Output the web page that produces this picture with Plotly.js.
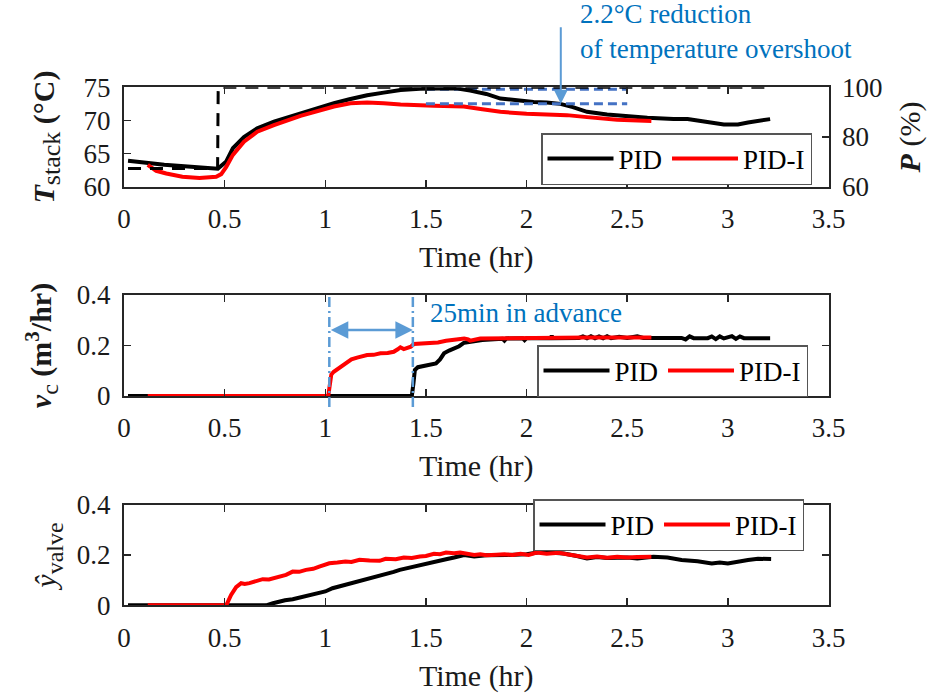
<!DOCTYPE html>
<html>
<head>
<meta charset="utf-8">
<script src="https://cdn.plot.ly/plotly-3.0.1.min.js"></script>
<style>
  html, body { margin: 0; padding: 0; background: #ffffff; }
  #chart { width: 930px; height: 696px; }
</style>
</head>
<body>
<div id="chart"></div>
<script>
// ---- Stack temperature (°C) ----
const tTempPID = [0.02, 0.1, 0.2, 0.3, 0.4, 0.466, 0.508, 0.541, 0.596, 0.662, 0.745, 0.877, 0.96, 1.043, 1.12, 1.208, 1.29, 1.374, 1.47, 1.55, 1.65, 1.72, 1.8, 1.87, 1.95, 2.035, 2.1, 2.168, 2.23, 2.3, 2.4, 2.5, 2.6, 2.73, 2.8, 2.89, 2.98, 3.05, 3.1, 3.21];
const tempPID  = [63.9, 63.6, 63.3, 63.1, 62.9, 62.7, 63.8, 65.8, 67.5, 68.8, 69.8, 71.1, 71.9, 72.6, 73.2, 73.8, 74.2, 74.6, 74.8, 74.85, 74.85, 74.5, 74.0, 73.3, 73.0, 72.8, 72.7, 72.5, 72.0, 71.3, 70.9, 70.6, 70.4, 70.2, 70.2, 69.8, 69.4, 69.4, 69.7, 70.2];
const tTempPIDI = [0.118, 0.16, 0.21, 0.29, 0.375, 0.458, 0.483, 0.508, 0.541, 0.596, 0.662, 0.745, 0.877, 0.96, 1.043, 1.125, 1.208, 1.29, 1.374, 1.54, 1.688, 1.78, 1.87, 2.0, 2.12, 2.2, 2.3, 2.45, 2.62];
const tempPIDI  = [63.3, 62.4, 62.0, 61.5, 61.3, 61.5, 61.9, 63.0, 64.8, 66.8, 68.3, 69.3, 70.7, 71.4, 72.1, 72.6, 72.7, 72.6, 72.4, 72.2, 72.1, 71.7, 71.3, 71.0, 70.9, 70.8, 70.5, 70.1, 69.9];

// ---- Power demand P (%) ----
const tPower = [0.02, 0.465, 0.468, 3.21];
const power  = [67.3, 67.3, 100, 100];

// ---- Overshoot peaks (°C) and window ----
const overshootWindow = [1.5, 2.5];
const peakPID  = 74.7;
const peakPIDI = 72.5;
const arrowTime = 2.17;

// ---- Coolant flow v_c (m^3/hr) ----
const tFlowPID = [0.02, 1.43, 1.438, 1.445, 1.46, 1.49, 1.52, 1.55, 1.57, 1.59, 1.615, 1.64, 1.665, 1.69, 1.72, 1.74, 1.78, 1.84, 1.88, 1.89, 1.9, 1.98, 1.99, 2.0, 2.12, 2.125, 2.13, 2.26, 2.28, 2.3, 2.32, 2.34, 2.36, 2.38, 2.4, 2.42, 2.46, 2.5, 2.55, 2.58, 2.7, 2.77, 2.79, 2.81, 2.83, 2.9, 2.92, 2.94, 2.96, 2.98, 3.02, 3.04, 3.06, 3.08, 3.21];
const flowPID  = [0, 0, 0.05, 0.103, 0.114, 0.118, 0.123, 0.129, 0.145, 0.169, 0.18, 0.189, 0.197, 0.211, 0.214, 0.219, 0.222, 0.225, 0.227, 0.219, 0.228, 0.229, 0.221, 0.229, 0.229, 0.238, 0.229, 0.23, 0.236, 0.229, 0.237, 0.229, 0.236, 0.229, 0.237, 0.229, 0.235, 0.23, 0.236, 0.23, 0.23, 0.23, 0.224, 0.236, 0.229, 0.229, 0.236, 0.225, 0.236, 0.228, 0.237, 0.226, 0.236, 0.229, 0.229];
const tFlowPIDI = [0.118, 1.015, 1.02, 1.03, 1.042, 1.075, 1.108, 1.13, 1.158, 1.208, 1.24, 1.274, 1.31, 1.34, 1.36, 1.373, 1.39, 1.406, 1.425, 1.44, 1.48, 1.52, 1.56, 1.6, 1.65, 1.69, 1.71, 1.72, 1.77, 1.85, 1.95, 2.1, 2.3, 2.5, 2.62];
const flowPIDI  = [0, 0, 0.03, 0.085, 0.096, 0.115, 0.136, 0.145, 0.152, 0.162, 0.163, 0.169, 0.17, 0.175, 0.185, 0.193, 0.186, 0.189, 0.195, 0.206, 0.207, 0.209, 0.212, 0.219, 0.222, 0.228, 0.224, 0.219, 0.228, 0.229, 0.23, 0.231, 0.232, 0.232, 0.232];
const advanceStart = 1.02;
const advanceEnd   = 1.435;
const advanceLevel = 0.261;

// ---- Valve opening estimate ----
const tValvePID = [0.02, 0.706, 0.74, 0.773, 0.8, 0.838, 0.87, 0.904, 0.94, 0.97, 1.0, 1.036, 1.07, 1.1, 1.14, 1.17, 1.2, 1.235, 1.27, 1.3, 1.34, 1.37, 1.4, 1.44, 1.47, 1.5, 1.54, 1.57, 1.6, 1.64, 1.69, 1.74, 1.8, 1.9, 2.0, 2.07, 2.12, 2.185, 2.25, 2.3, 2.35, 2.4, 2.5, 2.55, 2.63, 2.7, 2.77, 2.85, 2.92, 2.96, 3.0, 3.05, 3.1, 3.15, 3.215];
const valvePID  = [0, 0, 0.008, 0.015, 0.02, 0.024, 0.03, 0.035, 0.04, 0.048, 0.055, 0.068, 0.075, 0.084, 0.09, 0.097, 0.103, 0.11, 0.118, 0.125, 0.133, 0.141, 0.147, 0.154, 0.16, 0.163, 0.171, 0.177, 0.183, 0.19, 0.2, 0.194, 0.199, 0.2, 0.203, 0.212, 0.209, 0.206, 0.196, 0.186, 0.192, 0.188, 0.19, 0.186, 0.193, 0.19, 0.18, 0.175, 0.166, 0.17, 0.166, 0.174, 0.18, 0.185, 0.184];
const tValvePIDI = [0.118, 0.508, 0.532, 0.557, 0.582, 0.6, 0.623, 0.656, 0.689, 0.72, 0.755, 0.78, 0.805, 0.838, 0.87, 0.904, 0.94, 0.97, 1.0, 1.02, 1.06, 1.1, 1.13, 1.17, 1.22, 1.27, 1.3, 1.35, 1.39, 1.43, 1.47, 1.5, 1.54, 1.57, 1.6, 1.64, 1.67, 1.7, 1.74, 1.77, 1.8, 1.85, 1.89, 1.93, 1.97, 2.01, 2.05, 2.1, 2.16, 2.2, 2.25, 2.3, 2.35, 2.4, 2.45, 2.5, 2.55, 2.62];
const valvePIDI  = [0, 0, 0.041, 0.072, 0.088, 0.085, 0.088, 0.097, 0.104, 0.103, 0.11, 0.114, 0.121, 0.134, 0.133, 0.141, 0.145, 0.154, 0.16, 0.167, 0.17, 0.174, 0.172, 0.181, 0.178, 0.177, 0.185, 0.183, 0.19, 0.188, 0.194, 0.196, 0.205, 0.203, 0.21, 0.207, 0.21, 0.206, 0.2, 0.203, 0.199, 0.201, 0.203, 0.2, 0.205, 0.2, 0.21, 0.205, 0.209, 0.203, 0.198, 0.19, 0.194, 0.189, 0.193, 0.19, 0.192, 0.193];

// ---- Axis ticks ----
const timeTicks = [0, 0.5, 1, 1.5, 2, 2.5, 3, 3.5];
const tempTicks = [60, 65, 70, 75];
const powerTicks = [60, 80, 100];
const fracTicks = [0, 0.2, 0.4];

const FONT = 'Liberation Serif, Times New Roman, serif';
const INK = '#262626';
const BLUE_TEXT = 'rgb(0,114,189)';
const BLUE_ARROW = 'rgb(91,155,213)';
const BLUE_DASH = 'rgb(68,114,196)';
const LW = 4;

function series(x, y, name, color, xa, ya, legend, showlegend) {
  return { x: x, y: y, name: name, type: 'scatter', mode: 'lines',
           line: { color: color, width: LW }, xaxis: xa, yaxis: ya,
           legend: legend, showlegend: showlegend, hoverinfo: 'skip' };
}

const traces = [
  { x: tPower, y: power, type: 'scatter', mode: 'lines', xaxis: 'x', yaxis: 'y2',
    line: { color: '#000000', width: 3, dash: '13px,9px' }, showlegend: false, hoverinfo: 'skip' },
  { x: overshootWindow, y: [peakPID, peakPID], type: 'scatter', mode: 'lines', xaxis: 'x', yaxis: 'y',
    line: { color: BLUE_DASH, width: 3, dash: '9px,5px' }, showlegend: false, hoverinfo: 'skip' },
  series(tTempPID, tempPID, 'PID', '#000000', 'x', 'y', 'legend', true),
  series(tTempPIDI, tempPIDI, 'PID-I', '#ff0000', 'x', 'y', 'legend', true),
  { x: overshootWindow, y: [peakPIDI, peakPIDI], type: 'scatter', mode: 'lines', xaxis: 'x', yaxis: 'y',
    line: { color: BLUE_DASH, width: 3, dash: '9px,5px' }, showlegend: false, hoverinfo: 'skip' },

  series(tFlowPID, flowPID, 'PID', '#000000', 'x2', 'y3', 'legend2', true),
  series(tFlowPIDI, flowPIDI, 'PID-I', '#ff0000', 'x2', 'y3', 'legend2', true),

  series(tValvePID, valvePID, 'PID', '#000000', 'x3', 'y4', 'legend3', true),
  series(tValvePIDI, valvePIDI, 'PID-I', '#ff0000', 'x3', 'y4', 'legend3', true)
];

const xDomain = [124 / 930, 828.5 / 930];
const tickFont = { family: FONT, size: 27, color: '#1a1a1a' };
const titleFont = { family: FONT, size: 30, color: '#1a1a1a' };

function timeAxis(anchor) {
  return {
    domain: xDomain, anchor: anchor, range: [0, 3.5], tickvals: timeTicks,
    ticks: 'inside', ticklen: 7, tickwidth: 1.5, tickcolor: INK,
    showline: true, linecolor: INK, linewidth: 2, mirror: 'ticks',
    showgrid: false, zeroline: false, tickfont: tickFont, ticklabelstandoff: 7,
    title: { text: 'Time (hr)', font: titleFont, standoff: 13 }
  };
}
function valueAxis(anchor, domain, range, tickvals, title, mirror, standoff) {
  return {
    domain: domain, anchor: anchor, range: range, tickvals: tickvals,
    ticks: 'inside', ticklen: 7, tickwidth: 1.5, tickcolor: INK,
    showline: true, linecolor: INK, linewidth: 2, mirror: mirror,
    showgrid: false, zeroline: false, tickfont: tickFont, ticklabelstandoff: 6,
    title: { text: title, font: titleFont, standoff: standoff }
  };
}

const legendBase = {
  orientation: 'h', xanchor: 'right', yanchor: 'top',
  bgcolor: '#ffffff', bordercolor: '#555555', borderwidth: 1.5,
  font: { family: FONT, size: 27, color: '#000000' },
  itemwidth: 66, tracegroupgap: 0
};

const layout = {
  width: 930, height: 696,
  margin: { l: 0, r: 0, t: 0, b: 0 },
  paper_bgcolor: '#ffffff', plot_bgcolor: 'rgba(0,0,0,0)',
  font: { family: FONT, color: '#1a1a1a' },
  xaxis: timeAxis('y'),
  yaxis: valueAxis('x', [1 - 186.7 / 696, 1 - 87.3 / 696], [60, 75], tempTicks,
                   '<b><i>T</i></b><sub><span style="font-size:26px">stack</span></sub> <b>(°C)</b>', false, 20),
  yaxis2: Object.assign(valueAxis('x', [1 - 186.7 / 696, 1 - 87.3 / 696], [60, 100], powerTicks,
                   '<b><i>P</i></b> (%)', false, 18), { overlaying: 'y', side: 'right' }),
  xaxis2: timeAxis('y3'),
  yaxis3: valueAxis('x2', [1 - 396 / 696, 1 - 295 / 696], [0, 0.4], fracTicks,
                   '<b><i>v</i></b><sub><span style="font-size:24px">c</span></sub> <b>(m<sup>3</sup>/hr)</b>', 'ticks', 16),
  xaxis3: timeAxis('y4'),
  yaxis4: valueAxis('x3', [1 - 605.3 / 696, 1 - 504.7 / 696], [0, 0.4], fracTicks,
                   '<i>ŷ</i><sub><span style="font-size:24px">valve</span></sub>', 'ticks', 11),
  legend:  Object.assign({}, legendBase, { x: 812 / 930, y: 1 - 133 / 696 }),
  legend2: Object.assign({}, legendBase, { x: 808 / 930, y: 1 - 345 / 696 }),
  legend3: Object.assign({}, legendBase, { x: 804 / 930, y: 1 - 499 / 696 }),
  shapes: [
    { type: 'line', xref: 'x2', yref: 'y3 domain', x0: advanceStart, x1: advanceStart, y0: -0.11, y1: 1,
      line: { color: BLUE_ARROW, width: 2.5, dash: '10px,4px,2px,4px' } },
    { type: 'line', xref: 'x2', yref: 'y3 domain', x0: advanceEnd, x1: advanceEnd, y0: -0.11, y1: 1,
      line: { color: BLUE_ARROW, width: 2.5, dash: '10px,4px,2px,4px' } }
  ],
  annotations: [
    { xref: 'paper', yref: 'paper', x: 578 / 930, y: 1 - 32 / 696, xanchor: 'left', yanchor: 'middle',
      align: 'left', showarrow: false,
      text: '2.2°C reduction<br>of temperature overshoot',
      font: { family: FONT, size: 27, color: BLUE_TEXT } },
    { xref: 'x', yref: 'y', x: arrowTime, y: peakPIDI, ax: 0, ay: -78, text: '',
      showarrow: true, arrowhead: 2, arrowsize: 1.4, arrowwidth: 2, arrowcolor: BLUE_ARROW, standoff: 0 },
    { xref: 'paper', yref: 'paper', x: 428 / 930, y: 1 - 313 / 696, xanchor: 'left', yanchor: 'middle',
      showarrow: false, text: '25min in advance',
      font: { family: FONT, size: 27, color: BLUE_TEXT } },
    { xref: 'x2', yref: 'y3', x: advanceEnd, y: advanceLevel, axref: 'x2', ayref: 'y3',
      ax: advanceStart, ay: advanceLevel, text: '', showarrow: true, arrowside: 'end+start',
      arrowhead: 2, arrowsize: 1.4, arrowwidth: 2.5, arrowcolor: BLUE_ARROW, standoff: 0, startstandoff: 0 }
  ]
};

Plotly.newPlot('chart', traces, layout, { staticPlot: true, displayModeBar: false });
</script>
</body>
</html>
